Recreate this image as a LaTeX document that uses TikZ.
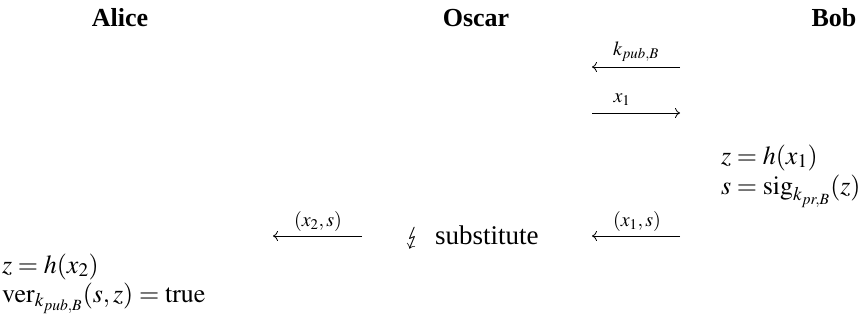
\documentclass[tikz,border=0pt]{standalone}
\usepackage{amsmath}
\usepackage{mathptmx}
\usepackage{stmaryrd}
\usepackage{fontspec}
\setmainfont{Liberation Serif}
\usetikzlibrary{arrows.meta}
\begin{document}
\begin{tikzpicture}[x=1pt,y=-1pt,
  every node/.style={inner sep=0pt, outer sep=0pt, font=\fontsize{26}{30}\selectfont},
  title/.style={anchor=base, font=\fontsize{26}{30}\selectfont\bfseries},
  calc/.style={anchor=base west, font=\fontsize{26}{30}\selectfont},
  lbl/.style={anchor=base, font=\fontsize{20}{22}\selectfont},
  msg/.style={line width=0.8pt, -{Computer Modern Rightarrow[length=5pt,width=10pt]}}]
\useasboundingbox (0,0) rectangle (863,325);
% titles
\node[title] (alice) at (120,26) {Alice};
\node[title] (oscar) at (476,26) {Oscar};
\node[title] (bob) at (834,26) {Bob};
% message 1
\coordinate (m1r) at (680,67);
\coordinate (m1l) at (592,67);
\draw[msg] (m1r) -- (m1l);
\node[lbl] (l1) at (636,55) {$k_{pub,B}$};
% message 2
\coordinate (m2l) at (592,113);
\coordinate (m2r) at (680,113);
\draw[msg] (m2l) -- (m2r);
\node[lbl] (l2) at (622,102) {$x_1$};
% Bob computes
\node[calc] (b1) at (721,164) {$z = h(x_1)$};
\node[calc] (b2) at (721,194) {$s = \mathrm{sig}_{k_{pr,B}}(z)$};
% message 3 (Bob -> Oscar)
\coordinate (m3r) at (680,236);
\coordinate (m3l) at (592,236);
\draw[msg] (m3r) -- (m3l);
\node[lbl] (l3) at (637,226) {$(x_1,s)$};
% Oscar substitutes
\node[calc, font=\fontsize{27}{30}\selectfont] (sub) at (405,244) {$\lightning$\hspace{0.55em}substitute};
% message 4 (Oscar -> Alice)
\coordinate (m4r) at (362,236);
\coordinate (m4l) at (273,236);
\draw[msg] (m4r) -- (m4l);
\node[lbl] (l4) at (318,226) {$(x_2,s)$};
% Alice verifies
\node[calc] (a1) at (2,273) {$z = h(x_2)$};
\node[calc] (a2) at (2,302) {$\mathrm{ver}_{k_{pub,B}}(s,z) = \mathrm{true}$};
\end{tikzpicture}
\end{document}
